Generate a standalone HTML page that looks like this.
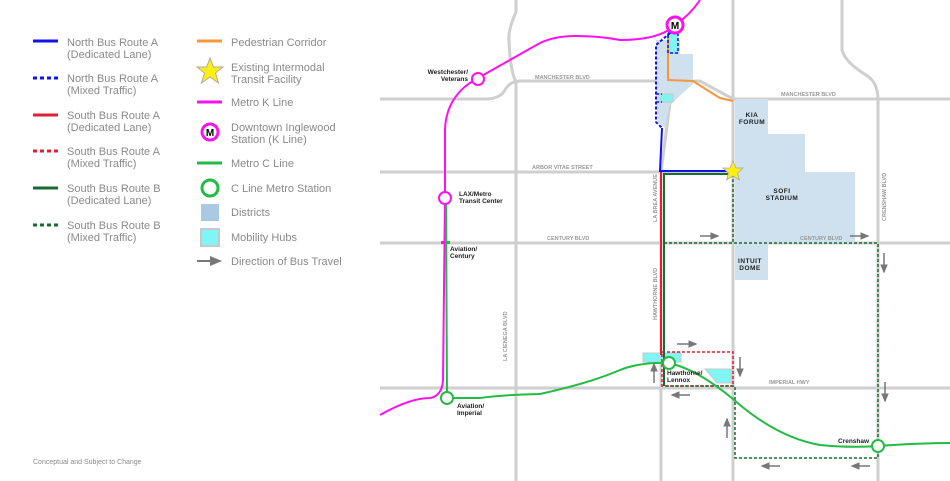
<!DOCTYPE html>
<html><head><meta charset="utf-8"><style>
html,body{margin:0;padding:0;background:#fff}
svg{display:block}
.lg{font-family:"Liberation Sans",sans-serif;font-size:11px;fill:#8a8a8a}
.rd{font-family:"Liberation Sans",sans-serif;font-size:5.5px;fill:#999;font-weight:bold}
.st{font-family:"Liberation Sans",sans-serif;font-size:6.5px;fill:#222;font-weight:bold}
.ds{font-family:"Liberation Sans",sans-serif;font-size:6.5px;fill:#222;font-weight:bold;text-anchor:middle;letter-spacing:0.5px}
</style></head><body>
<svg width="950" height="481" viewBox="0 0 950 481" xmlns="http://www.w3.org/2000/svg">
<defs><marker id="ar" markerWidth="6" markerHeight="6" refX="5" refY="3" orient="auto"><path d="M0,0.5 L6,3 L0,5.5z" fill="#777"/></marker></defs>
<!-- roads -->
<g stroke="#cfcfcf" stroke-width="3" fill="none">
<path d="M380,99 L485,99 Q500,99 505,90 Q510,81 520,81 L700,81 L733,99 L950,99"/>
<path d="M380,172 L733,172"/>
<path d="M380,243 L950,243"/>
<path d="M380,388 L950,388"/>
<path d="M516,0 L516,12 Q508,30 509,40 Q510,70 516,82 L516,481"/>
<path d="M693,81 L670,103 L661,172 L661,481"/>
<path d="M733,0 L733,481"/>
<path d="M842,0 L842,50 Q845,62 866,75 Q878,82 878,100 L878,481"/>
</g>
<!-- districts -->
<g fill="#cfe0ee">
<path d="M656,40 L680,40 L680,54 L693,54 L693,84 L670,104 L665,128 L658,122 L656,100z"/>
<path d="M735,99 L768,99 L768,134 L805,134 L805,172 L855,172 L855,243 L735,243z"/>
<rect x="735" y="243" width="33" height="37"/>
</g>
<!-- hubs -->
<g fill="#7ff5f5" stroke="#c8c8c8" stroke-width="1">
<rect x="668" y="33" width="10" height="20"/>
<rect x="660" y="94" width="13" height="8"/>
<rect x="643" y="353" width="38" height="9"/>
<path d="M705,369 L731,369 L731,383 L717,383z"/>
</g>
<!-- orange -->
<path d="M668,33 L668,80 L693,81 Q710,92 720,98 L733,101" stroke="#f7973a" stroke-width="2" fill="none"/>
<!-- blue -->
<path d="M670,33 L656,45 L656,122 L662,128" stroke="#1010f0" stroke-width="2" stroke-dasharray="3,2" fill="none"/>
<rect x="668" y="33" width="10" height="20" stroke="#1010f0" stroke-width="1.5" stroke-dasharray="3,2" fill="none"/>
<path d="M656,94 L662,94 M656,102 L662,102" stroke="#1010f0" stroke-width="1.5" stroke-dasharray="3,2"/>
<path d="M662,128 L660,171 L733,171" stroke="#1010f0" stroke-width="2" fill="none"/>
<!-- red -->
<path d="M661,172 L661,355" stroke="#e02030" stroke-width="2" fill="none"/>
<rect x="662" y="352" width="71" height="34" stroke="#e02030" stroke-width="1.5" stroke-dasharray="3,2" fill="none"/>
<!-- dark green -->
<path d="M733,174 L664,174 L664,386" stroke="#1a6b30" stroke-width="2" fill="none"/>
<path d="M733,174 L733,243 M664,243 L878,243 L878,458 L735,458 L735,386 L664,386" stroke="#1a6b30" stroke-width="1.5" stroke-dasharray="3,2" fill="none"/>
<!-- K line -->
<path d="M700,0 Q690,15 675,25 Q660,40 620,40 Q600,36 575,36 Q555,36 540,43 L478,78 Q446,95 445,130 L445,198 L443,380 Q442,396 430,398 Q410,398 380,415" stroke="#ff10f0" stroke-width="2" fill="none"/>
<!-- C line -->
<path d="M446,198 L447,398 L480,398 Q500,395 540,394 Q590,383 620,370 Q640,362 669,363 Q700,370 740,405 Q780,438 820,445 Q850,448 878,446 Q920,443 950,443" stroke="#22bb44" stroke-width="2" fill="none"/>
<rect x="441" y="241" width="3" height="3" fill="#ff10f0"/><rect x="447" y="241" width="3" height="3" fill="#22bb44"/>
<!-- stations -->
<g fill="#fff" stroke-width="2">
<circle cx="478" cy="79" r="6" stroke="#ff10f0"/>
<circle cx="445" cy="198" r="6" stroke="#ff10f0"/>
<circle cx="447" cy="398" r="6" stroke="#22bb44"/>
<circle cx="669" cy="363" r="6" stroke="#22bb44"/>
<circle cx="878" cy="446" r="6" stroke="#22bb44"/>
<circle cx="675" cy="25" r="8" stroke="#ff10f0" stroke-width="3"/>
</g>
<text x="675" y="29" font-family="Liberation Sans" font-size="10" font-weight="bold" text-anchor="middle">M</text>
<polygon points="733,161 736,168 743,168 737.5,173 739.5,180 733,176 726.5,180 728.5,173 723,168 730,168" fill="#ffee11" stroke="#aaa" stroke-width="0.8"/>
<!-- arrows -->
<g stroke="#777" stroke-width="1.5" marker-end="url(#ar)">
<line x1="700" y1="236" x2="718" y2="236"/><line x1="850" y1="236" x2="868" y2="236"/>
<line x1="884" y1="253" x2="884" y2="272"/><line x1="677" y1="344" x2="696" y2="344"/>
<line x1="740" y1="357" x2="740" y2="376"/><line x1="654" y1="383" x2="654" y2="364"/>
<line x1="690" y1="395" x2="672" y2="395"/><line x1="885" y1="382" x2="885" y2="401"/>
<line x1="727" y1="438" x2="727" y2="419"/><line x1="780" y1="466" x2="762" y2="466"/>
<line x1="870" y1="466" x2="852" y2="466"/>
</g>
<!-- road labels -->
<text class="rd" x="535" y="79">MANCHESTER BLVD</text>
<text class="rd" x="781" y="96">MANCHESTER BLVD</text>
<text class="rd" x="532" y="169">ARBOR VITAE STREET</text>
<text class="rd" x="547" y="240">CENTURY BLVD</text>
<text class="rd" x="800" y="240">CENTURY BLVD</text>
<text class="rd" x="769" y="384">IMPERIAL HWY</text>
<text class="rd" transform="translate(657,222) rotate(-90)">LA BREA AVENUE</text>
<text class="rd" transform="translate(657,320) rotate(-90)">HAWTHORNE BLVD</text>
<text class="rd" transform="translate(507,361) rotate(-90)">LA CIENEGA BLVD</text>
<text class="rd" transform="translate(886,221) rotate(-90)">CRENSHAW BLVD</text>
<!-- station labels -->
<text class="st" x="468" y="74" text-anchor="end">Westchester/</text>
<text class="st" x="468" y="81" text-anchor="end">Veterans</text>
<text class="st" x="459" y="196">LAX/Metro</text><text class="st" x="459" y="203">Transit Center</text>
<text class="st" x="450" y="251">Aviation/</text><text class="st" x="450" y="258">Century</text>
<text class="st" x="457" y="408">Aviation/</text><text class="st" x="457" y="415">Imperial</text>
<text class="st" x="667" y="375">Hawthorne/</text><text class="st" x="667" y="382">Lennox</text>
<text class="st" x="838" y="443">Crenshaw</text>
<text class="ds" x="752" y="117">KIA</text><text class="ds" x="752" y="124">FORUM</text>
<text class="ds" x="782" y="193">SOFI</text><text class="ds" x="782" y="200">STADIUM</text>
<text class="ds" x="750" y="263">INTUIT</text><text class="ds" x="750" y="270">DOME</text>
<!-- legend -->
<g stroke-width="3">
<line x1="33" y1="41" x2="58" y2="41" stroke="#1010f0"/>
<line x1="33" y1="78" x2="58" y2="78" stroke="#1010f0" stroke-dasharray="4,3"/>
<line x1="33" y1="115" x2="58" y2="115" stroke="#e02030"/>
<line x1="33" y1="151" x2="58" y2="151" stroke="#e02030" stroke-dasharray="4,3"/>
<line x1="33" y1="188" x2="58" y2="188" stroke="#1a6b30"/>
<line x1="33" y1="225" x2="58" y2="225" stroke="#1a6b30" stroke-dasharray="4,3"/>
<line x1="197" y1="41" x2="222" y2="41" stroke="#f7973a"/>
<line x1="197" y1="102" x2="222" y2="102" stroke="#ff10f0"/>
<line x1="197" y1="163" x2="222" y2="163" stroke="#22bb44"/>
</g>
<g class="lg">
<text x="67" y="46">North Bus Route A</text><text x="67" y="58">(Dedicated Lane)</text>
<text x="67" y="82">North Bus Route A</text><text x="67" y="94">(Mixed Traffic)</text>
<text x="67" y="119">South Bus Route A</text><text x="67" y="131">(Dedicated Lane)</text>
<text x="67" y="155">South Bus Route A</text><text x="67" y="167">(Mixed Traffic)</text>
<text x="67" y="192">South Bus Route B</text><text x="67" y="204">(Dedicated Lane)</text>
<text x="67" y="229">South Bus Route B</text><text x="67" y="241">(Mixed Traffic)</text>
<text x="231" y="46">Pedestrian Corridor</text>
<text x="231" y="71">Existing Intermodal</text><text x="231" y="83">Transit Facility</text>
<text x="231" y="106">Metro K Line</text>
<text x="231" y="131">Downtown Inglewood</text><text x="231" y="143">Station (K Line)</text>
<text x="231" y="167">Metro C Line</text>
<text x="231" y="192">C Line Metro Station</text>
<text x="231" y="216">Districts</text>
<text x="231" y="241">Mobility Hubs</text>
<text x="231" y="265">Direction of Bus Travel</text>
</g>
<polygon points="210,58 213.5,67 223,67 215.5,73 218.5,83 210,77 201.5,83 204.5,73 197,67 206.5,67" fill="#ffee11" stroke="#aaa" stroke-width="1"/>
<circle cx="210" cy="132" r="8" fill="#fff" stroke="#ff10f0" stroke-width="3"/>
<text x="210" y="136" font-family="Liberation Sans" font-size="10" font-weight="bold" text-anchor="middle">M</text>
<circle cx="210" cy="188" r="8" fill="#fff" stroke="#22bb44" stroke-width="3"/>
<rect x="201" y="204" width="18" height="17" fill="#a9c9e4"/>
<rect x="201" y="229" width="18" height="17" fill="#7ff5f5" stroke="#c8c8c8" stroke-width="2"/>
<line x1="197" y1="261" x2="220" y2="261" stroke="#777" stroke-width="2" marker-end="url(#ar)"/>
<text x="33" y="464" font-family="Liberation Sans" font-size="7" fill="#8a8a8a">Conceptual and Subject to Change</text>
</svg>
</body></html>
